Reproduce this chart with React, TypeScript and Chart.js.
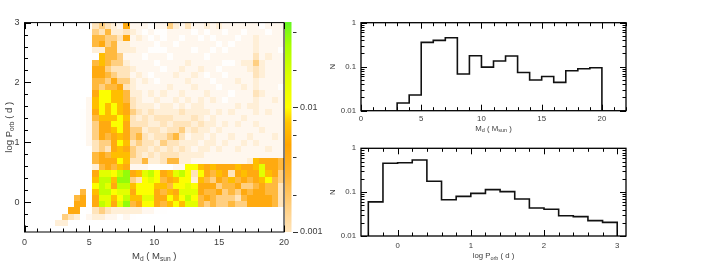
import React, { useEffect, useRef } from 'react';
import { Chart, registerables } from 'chart.js';

Chart.register(...registerables);

const FONT = '"Liberation Sans", "DejaVu Sans", Arial, sans-serif';
const TEXT = '#3c3c3c';

// ---------- heat map data ----------
const heatMdRange = [0, 20];
const heatMdBins = 42;
const heatPRange = [-0.5, 3];
const heatPBins = 34;
const heatLevelKeys = '123456789ABC';
const heatLevelValues = [0.00022, 0.0004, 0.00065, 0.001, 0.0016, 0.0026, 0.0042, 0.007, 0.0105, 0.016, 0.024, 0.036];
// one string per Md bin, characters = log P bins from bottom (-0.5) to top (3.0)
const heatColumns = [
  '', '', '', '', '',
  '.3',
  '.35',
  '..47',
  '..3776',
  '....776 ........ 11111',
  '..21 .......... 22222222',
  '..34 7789 87 36 64 4555 67 88 766 776 13 66 54',
  '..35 BABB BA 67 75 5777 89 99 956 778 83 76 45',
  '..24 AABA BA 77 64 5677 88 89 965 656 66 55 64',
  '..23 7897 89 67 87 7789 89 98 867 545 66 65 33',
  '..13 A9AB CB 89 88 9899 98 88 875 445 53 34 32',
  '..23 CBAB CC 78 87 8777 87 76 645 443 23 37 47',
  '..13 6878 57 24 55 4554 45 44 333 232 23 22 32',
  '...3 7899 48 24 44 5654 34 33 322 322 22 23 22',
  '...2 9A99 9A 26 34 4434 43 32 223 222 12 22 12',
  '...2 9A99 AB 13 43 4343 34 32 322 122 21 21 21',
  '...1 7778 99 13 34 3443 43 23 221 221 21 12 12',
  '...1 6768 67 14 43 5434 43 32 322 212 21 21 12',
  '.... 8986 78 16 44 4543 43 32 232 222 12 22 25',
  '.... 9879 8A 26 43 4644 33 23 222 322 22 12 23',
  '.... 89A9 9B 23 34 3454 34 32 322 232 22 21 22',
  '.... ABAA 99 93 33 3234 33 23 223 223 22 22 24',
  '.... A9A9 34 92 32 3343 43 32 232 322 21 22 12',
  '.... 6677 89 82 33 2334 33 33 222 232 22 21 22',
  '.... 5767 67 72 23 3233 23 22 322 122 12 22 13',
  '.... 6667 56 82 22 3323 32 23 221 222 21 21 22',
  '.... 5575 78 72 23 2232 23 22 212 212 22 12 23',
  '.... 5556 67 72 22 3223 22 21 222 121 21 22 12',
  '.... 6566 84 72 22 2322 23 22 122 221 22 12 22',
  '.... 5457 67 82 23 2223 22 32 223 222 22 21 22',
  '.... 5675 78 72 22 3222 32 22 232 223 22 22 12',
  '.... 7765 67 73 22 2322 22 32 222 233 22 22 22',
  '.... 7776 77 88 22 3223 23 33 433 445 43 33 22',
  '.... 7777 8A A7 22 2232 22 22 322 333 22 22 21',
  '.... 7766 98 77 23 2222 23 22 222 222 32 22 12',
  '.... 6666 67 77 22 2322 22 23 222 222 22 22 22',
  '.... 4444 55 66 22 2222 22 22 212 222 21 22 22',
];

const heatXTicks = [0, 5, 10, 15, 20];
const heatXMinor = [0, 1, 2, 3, 4, 5, 6, 7, 8, 9, 10, 11, 12, 13, 14, 15, 16, 17, 18, 19, 20];
const heatYTicks = [0, 1, 2, 3];
const heatYMinor = [-0.4, -0.2, 0, 0.2, 0.4, 0.6, 0.8, 1, 1.2, 1.4, 1.6, 1.8, 2, 2.2, 2.4, 2.6, 2.8, 3];

// colour bar
const cbRange = [0.001, 0.048];
const cbMajor = [0.001, 0.01];
const cbMinor = [0.002, 0.004, 0.006, 0.008, 0.02, 0.04];
const cmapLog = [-3.7, -3.3, -3.0, -2.8, -2.55, -2.3, -2.12, -2.0, -1.75, -1.5, -1.32];
const cmapColor = ['#ffffff', '#fff5e8', '#ffe4bb', '#ffcf82', '#ffb533', '#ffa500', '#ffc400', '#ffff00', '#ddff00', '#a8ff00', '#66f522'];

// ---------- histograms ----------
const mdEdges = [3, 4, 5, 6, 7, 8, 9, 10, 11, 12, 13, 14, 15, 16, 17, 18, 19, 20];
const mdValues = [0.015, 0.0227, 0.357, 0.397, 0.456, 0.068, 0.178, 0.098, 0.135, 0.175, 0.074, 0.05, 0.06, 0.044, 0.081, 0.09, 0.095];
const mdXTicks = [0, 5, 10, 15, 20];
const mdXMinor = [0, 1, 2, 3, 4, 5, 6, 7, 8, 9, 10, 11, 12, 13, 14, 15, 16, 17, 18, 19, 20, 21, 22];

const pEdges = [-0.4, -0.2, 0, 0.2, 0.4, 0.6, 0.8, 1, 1.2, 1.4, 1.6, 1.8, 2, 2.2, 2.4, 2.6, 2.8, 3];
const pValues = [0.06, 0.455, 0.47, 0.54, 0.177, 0.067, 0.08, 0.094, 0.114, 0.103, 0.07, 0.0435, 0.0406, 0.029, 0.0276, 0.0224, 0.0205];
const pXTicks = [0, 1, 2, 3];
const pXMinor = [-0.4, -0.2, 0, 0.2, 0.4, 0.6, 0.8, 1, 1.2, 1.4, 1.6, 1.8, 2, 2.2, 2.4, 2.6, 2.8, 3];

const nTicks = [0.01, 0.1, 1];
const nMinor = [0.02, 0.03, 0.04, 0.05, 0.06, 0.07, 0.08, 0.09, 0.2, 0.3, 0.4, 0.5, 0.6, 0.7, 0.8, 0.9];

// ---------- helpers ----------
function hexRgb(h: string) {
  return [parseInt(h.slice(1, 3), 16), parseInt(h.slice(3, 5), 16), parseInt(h.slice(5, 7), 16)];
}
function heatColor(v: number) {
  const lv = Math.log10(v);
  if (lv <= cmapLog[0]) return cmapColor[0];
  const n = cmapLog.length;
  if (lv >= cmapLog[n - 1]) return cmapColor[n - 1];
  let i = 0;
  while (i < n - 2 && lv > cmapLog[i + 1]) i++;
  const t = (lv - cmapLog[i]) / (cmapLog[i + 1] - cmapLog[i]);
  const a = hexRgb(cmapColor[i]);
  const b = hexRgb(cmapColor[i + 1]);
  const c = a.map((x, k) => Math.round(x + (b[k] - x) * t));
  return `rgb(${c[0]},${c[1]},${c[2]})`;
}

type Seg = { t: string; sub?: boolean };
const mdTitle: Seg[] = [{ t: 'M' }, { t: 'd', sub: true }, { t: ' ( M' }, { t: 'sun', sub: true }, { t: ' )' }];
const porbTitle: Seg[] = [{ t: 'log P' }, { t: 'orb', sub: true }, { t: ' ( d )' }];
const nTitle: Seg[] = [{ t: 'N' }];

function drawTitle(ctx: CanvasRenderingContext2D, segs: Seg[], cx: number, cy: number, size: number, rotate: boolean) {
  ctx.save();
  ctx.translate(cx, cy);
  if (rotate) ctx.rotate(-Math.PI / 2);
  const subSize = size * 0.7;
  const widths = segs.map((s) => {
    ctx.font = `${s.sub ? subSize : size}px ${FONT}`;
    return ctx.measureText(s.t).width;
  });
  const total = widths.reduce((p, c) => p + c, 0);
  let x = -total / 2;
  ctx.fillStyle = TEXT;
  ctx.textBaseline = 'middle';
  ctx.textAlign = 'left';
  segs.forEach((s, i) => {
    ctx.font = `${s.sub ? subSize : size}px ${FONT}`;
    ctx.fillText(s.t, x, s.sub ? size * 0.3 : 0);
    x += widths[i];
  });
  ctx.restore();
}

type BoxCfg = {
  xMajor: number[]; xMinor: number[]; yMajor: number[]; yMinor: number[];
  sides: { top: boolean; bottom: boolean; left: boolean; right: boolean };
  majorLen: number; minorLen: number; border: number;
};

function drawBox(chart: any, cfg: BoxCfg) {
  const { ctx, chartArea: a } = chart;
  const xs = chart.scales.x;
  const ys = chart.scales.y;
  const isMaj = (list: number[], v: number) => list.some((m) => Math.abs(m - v) < 1e-9);
  ctx.save();
  ctx.strokeStyle = '#000';
  ctx.lineWidth = 1;
  ctx.beginPath();
  cfg.xMinor.forEach((v) => {
    const px = Math.round(xs.getPixelForValue(v)) + 0.5;
    const L = isMaj(cfg.xMajor, v) ? cfg.majorLen : cfg.minorLen;
    if (cfg.sides.bottom) { ctx.moveTo(px, a.bottom); ctx.lineTo(px, a.bottom - L); }
    if (cfg.sides.top) { ctx.moveTo(px, a.top); ctx.lineTo(px, a.top + L); }
  });
  [...cfg.yMinor, ...cfg.yMajor].forEach((v) => {
    const py = Math.round(ys.getPixelForValue(v)) + 0.5;
    const L = isMaj(cfg.yMajor, v) ? cfg.majorLen : cfg.minorLen;
    if (cfg.sides.left) { ctx.moveTo(a.left, py); ctx.lineTo(a.left + L, py); }
    if (cfg.sides.right) { ctx.moveTo(a.right, py); ctx.lineTo(a.right - L, py); }
  });
  ctx.stroke();
  ctx.lineWidth = cfg.border;
  ctx.strokeRect(a.left, a.top, a.right - a.left, a.bottom - a.top);
  ctx.restore();
}

function axis(type: string, min: number, max: number, ticks: number[], size: number, padding: number, fit: (s: any) => void, position?: string) {
  return {
    type, min, max, position,
    grid: { display: false, drawTicks: false },
    border: { display: false },
    ticks: {
      autoSkip: false, maxRotation: 0, minRotation: 0, padding, color: TEXT,
      font: { family: FONT, size },
      callback: (v: any) => String(v),
    },
    afterBuildTicks: (s: any) => { s.ticks = ticks.map((v) => ({ value: v })); },
    afterFit: fit,
  };
}

function stepPoints(edges: number[], values: number[], base: number) {
  const pts = [{ x: edges[0], y: base }];
  values.forEach((v, i) => pts.push({ x: edges[i], y: v }));
  pts.push({ x: edges[edges.length - 1], y: values[values.length - 1] });
  pts.push({ x: edges[edges.length - 1], y: base });
  return pts;
}

function heatConfig(): any {
  const heatPlugin = {
    id: 'heatCells',
    beforeDatasetsDraw(chart: any) {
      const { ctx, chartArea: a } = chart;
      const xs = chart.scales.x;
      const ys = chart.scales.y;
      const dx = (heatMdRange[1] - heatMdRange[0]) / heatMdBins;
      const dy = (heatPRange[1] - heatPRange[0]) / heatPBins;
      ctx.save();
      ctx.beginPath();
      ctx.rect(a.left, a.top, a.right - a.left, a.bottom - a.top);
      ctx.clip();
      heatColumns.forEach((col, k) => {
        const s = col.replace(/\s/g, '');
        const x0 = Math.round(xs.getPixelForValue(heatMdRange[0] + k * dx));
        const x1 = Math.round(xs.getPixelForValue(heatMdRange[0] + (k + 1) * dx));
        for (let j = 0; j < heatPBins; j++) {
          const idx = heatLevelKeys.indexOf(s[j] || '.');
          if (idx < 0) continue;
          const y0 = Math.round(ys.getPixelForValue(heatPRange[0] + (j + 1) * dy));
          const y1 = Math.round(ys.getPixelForValue(heatPRange[0] + j * dy));
          ctx.fillStyle = heatColor(heatLevelValues[idx]);
          ctx.fillRect(x0, y0, x1 - x0, y1 - y0);
        }
      });
      ctx.restore();
    },
    afterDraw(chart: any) {
      const { ctx, chartArea: a } = chart;
      drawBox(chart, {
        xMajor: heatXTicks, xMinor: heatXMinor, yMajor: heatYTicks, yMinor: heatYMinor,
        sides: { top: true, bottom: true, left: true, right: false },
        majorLen: 6.5, minorLen: 3.5, border: 1,
      });
      // colour bar
      const cb = chart.scales.cb;
      const bx0 = a.right + 1;
      const bx1 = a.right + 7.5;
      ctx.save();
      for (let py = Math.floor(cb.top); py < Math.ceil(cb.bottom); py++) {
        let v = cb.getValueForPixel(py + 0.5);
        v = Math.min(Math.max(v, cbRange[0]), cbRange[1]);
        ctx.fillStyle = heatColor(v);
        ctx.fillRect(bx0, py, bx1 - bx0, 1);
      }
      ctx.strokeStyle = '#333';
      ctx.lineWidth = 1;
      ctx.beginPath();
      [...cbMajor, ...cbMinor].forEach((v) => {
        const py = Math.round(cb.getPixelForValue(v)) + 0.5;
        ctx.moveTo(bx1 + 1.5, py);
        ctx.lineTo(bx1 + (cbMajor.includes(v) ? 6.5 : 5), py);
      });
      ctx.stroke();
      ctx.fillStyle = TEXT;
      ctx.font = `9px ${FONT}`;
      ctx.textAlign = 'left';
      ctx.textBaseline = 'middle';
      cbMajor.forEach((v) => ctx.fillText(String(v), bx1 + 8.5, cb.getPixelForValue(v)));
      ctx.restore();
      drawTitle(ctx, mdTitle, (a.left + a.right) / 2, 256, 9.5, false);
      drawTitle(ctx, porbTitle, 9, (a.top + a.bottom) / 2, 9.5, true);
    },
  };
  return {
    type: 'scatter',
    data: { datasets: [{ data: [] }] },
    options: {
      responsive: false, animation: false, devicePixelRatio: 1, events: [],
      layout: { padding: { left: 0, top: 22.6, right: 46, bottom: 0 } },
      plugins: { legend: { display: false }, tooltip: { enabled: false } },
      scales: {
        x: axis('linear', heatMdRange[0], heatMdRange[1], heatXTicks, 9, 5, (s: any) => { s.height = 32; }),
        y: axis('linear', heatPRange[0], heatPRange[1], heatYTicks, 9, 5, (s: any) => { s.width = 24.5; }),
        cb: { type: 'logarithmic', position: 'right', display: false, min: cbRange[0], max: cbRange[1] },
      },
    },
    plugins: [heatPlugin],
  };
}

function histConfig(edges: number[], values: number[], xMin: number, xMax: number, xTicks: number[], xMinor: number[], top: number, xH: number, labelPad: number, title: Seg[], titleY: number): any {
  const boxPlugin = {
    id: 'histBox',
    afterDraw(chart: any) {
      const { ctx, chartArea: a } = chart;
      drawBox(chart, {
        xMajor: xTicks, xMinor, yMajor: nTicks, yMinor: nMinor,
        sides: { top: true, bottom: true, left: true, right: true },
        majorLen: 6, minorLen: 3.5, border: 1.3,
      });
      drawTitle(ctx, title, (a.left + a.right) / 2, titleY, 7.8, false);
      drawTitle(ctx, nTitle, 12.7, (a.top + a.bottom) / 2, 7.8, true);
    },
  };
  return {
    type: 'line',
    data: {
      datasets: [{
        data: stepPoints(edges, values, nTicks[0]),
        stepped: 'before', borderColor: '#111', borderWidth: 1.6, pointRadius: 0, fill: false,
      }],
    },
    options: {
      responsive: false, animation: false, devicePixelRatio: 1, events: [],
      layout: { padding: { left: 0, top, right: 85, bottom: 0 } },
      plugins: { legend: { display: false }, tooltip: { enabled: false } },
      scales: {
        x: axis('linear', xMin, xMax, xTicks, 7.8, labelPad, (s: any) => { s.height = xH; }),
        y: axis('logarithmic', nTicks[0], nTicks[nTicks.length - 1], nTicks, 7.8, 5, (s: any) => { s.width = 41; }),
      },
    },
    plugins: [boxPlugin],
  };
}

export default function App() {
  const r1 = useRef<HTMLCanvasElement>(null);
  const r2 = useRef<HTMLCanvasElement>(null);
  const r3 = useRef<HTMLCanvasElement>(null);
  useEffect(() => {
    document.body.style.margin = '0';
    const c1 = new Chart(r1.current as HTMLCanvasElement, heatConfig());
    const c2 = new Chart(r2.current as HTMLCanvasElement,
      histConfig(mdEdges, mdValues, 0, 22, mdXTicks, mdXMinor, 22.7, 29.3, 3.5, mdTitle, 128.5));
    const c3 = new Chart(r3.current as HTMLCanvasElement,
      histConfig(pEdges, pValues, -0.5, 3.12, pXTicks, pXMinor, 18.3, 28, 5.5, porbTitle, 126));
    return () => { c1.destroy(); c2.destroy(); c3.destroy(); };
  }, []);
  return (
    <div style={{ position: 'relative', width: 711, height: 264, background: '#fff', overflow: 'hidden' }}>
      <canvas ref={r1} width={330} height={264} style={{ position: 'absolute', left: 0, top: 0, width: 330, height: 264 }} />
      <canvas ref={r2} width={391} height={140} style={{ position: 'absolute', left: 320, top: 0, width: 391, height: 140 }} />
      <canvas ref={r3} width={391} height={134} style={{ position: 'absolute', left: 320, top: 130, width: 391, height: 134 }} />
    </div>
  );
}
